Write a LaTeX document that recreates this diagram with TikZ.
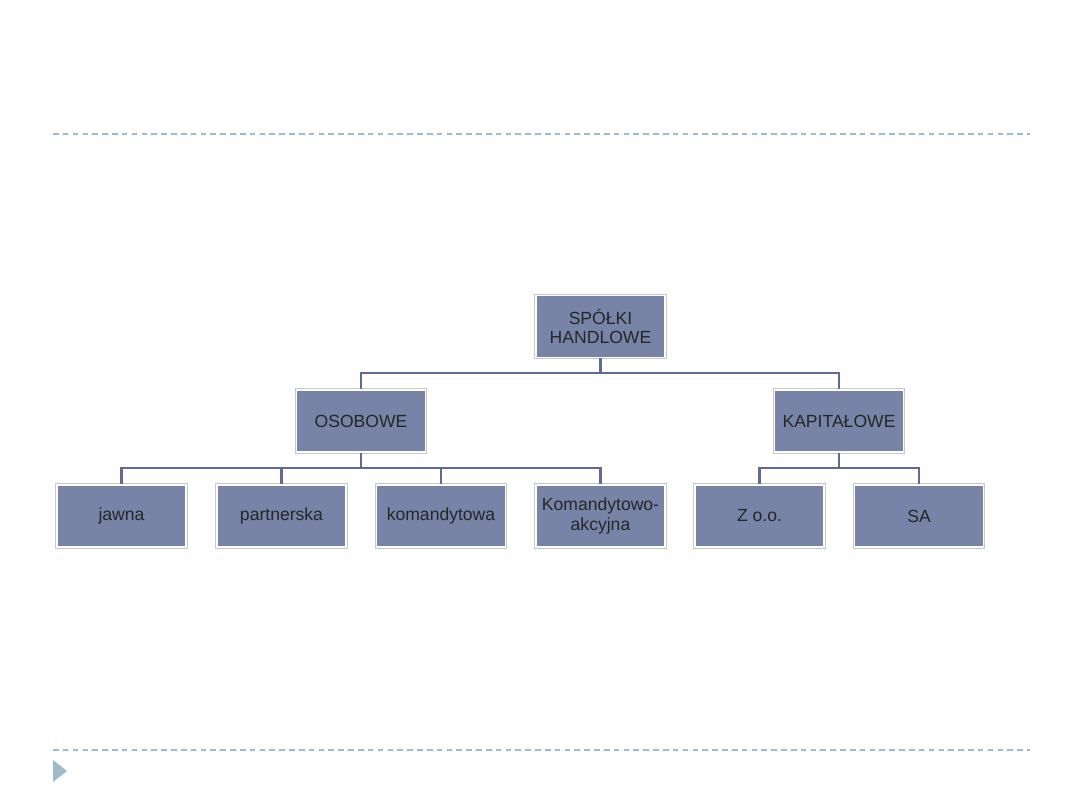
\documentclass[tikz,border=0pt]{standalone}
\usepackage{fontspec}
\setmainfont{Liberation Sans}
\definecolor{boxblue}{HTML}{7784A8}
\definecolor{linkcol}{HTML}{5F6B93}
\definecolor{rulecol}{HTML}{9FB9CD}
\begin{document}
\begin{tikzpicture}[x=0.02cm,y=-0.02cm,
  box/.style={fill=boxblue, draw=white, line width=1.1pt,
    minimum width=2.58cm, minimum height=1.24cm, inner sep=1pt,
    align=center, text=black!85, font=\fontsize{10}{10.9}\selectfont,
    preaction={draw=black!22, line width=2.2pt}},
  link/.style={draw=linkcol, line width=1.5pt},
  rule/.style={draw=rulecol, line width=0.7pt, dash pattern=on 3.2pt off 2.4pt}]
\useasboundingbox (0,0) rectangle (1080,810);
\draw[rule] (53,134) -- (1030,134);
\draw[rule] (53,750) -- (1030,750);
\fill[rulecol] (53,760) -- (67,771) -- (53,782) -- cycle;

\node[box] (root) at (600.5,326.5) {SPÓŁKI\\HANDLOWE};
\node[box] (oso) at (361,421) {OSOBOWE};
\node[box] (kap) at (839,421) {KAPITAŁOWE};
\node[box] (jaw) at (121.5,516) {jawna};
\node[box] (par) at (281.5,516) {partnerska};
\node[box] (kom) at (441,516) {komandytowa};
\node[box] (ka) at (600.5,516) {Komandytowo-\\akcyjna};
\node[box] (zoo) at (759.5,516) {Z o.o.};
\node[box] (sa) at (919,516) {SA};

\coordinate (r1) at (600.5,373);
\coordinate (o1) at (361,468);
\coordinate (k1) at (839,468);
\draw[link] (root.south) -- (r1);
\draw[link] (r1) -| (oso.north);
\draw[link] (r1) -| (kap.north);
\draw[link] (oso.south) -- (o1);
\draw[link] (o1) -| (jaw.north);
\draw[link] (o1) -| (par.north);
\draw[link] (o1) -| (kom.north);
\draw[link] (o1) -| (ka.north);
\draw[link] (kap.south) -- (k1);
\draw[link] (k1) -| (zoo.north);
\draw[link] (k1) -| (sa.north);
\end{tikzpicture}
\end{document}
